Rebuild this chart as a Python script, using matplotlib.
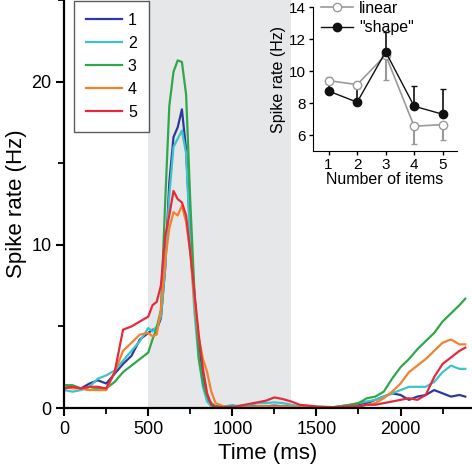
import matplotlib
matplotlib.use("Agg")
import matplotlib.pyplot as plt
from matplotlib.ticker import MultipleLocator

plt.rcParams["font.family"] = ["Liberation Sans", "DejaVu Sans"]

# time axis (ms), shared by all traces
time_ms = [0, 50, 100, 150, 200, 250, 300, 350, 400, 450, 500, 525, 550, 575,
           600, 625, 650, 675, 700, 725, 750, 775, 800, 825, 850, 875, 900,
           950, 1000, 1050, 1100, 1150, 1200, 1250, 1300, 1350, 1400, 1500,
           1600, 1700, 1750, 1800, 1850, 1900, 1950, 2000, 2050, 2100, 2150,
           2200, 2250, 2300, 2350, 2385]

rate_1 = [1.3, 1.3, 1.2, 1.5, 1.7, 1.5, 2.1, 2.7, 3.2, 4.2, 4.6, 4.8, 4.8, 5.5,
          8.5, 13.8, 16.6, 17.2, 18.3, 15.8, 10.5, 6.8, 4.0, 1.8, 0.5, 0.2, 0.1,
          0.1, 0.15, 0.1, 0.1, 0.1, 0.1, 0.15, 0.1, 0.1, 0.1, 0.05,
          0.05, 0.1, 0.2, 0.3, 0.5, 0.7, 0.9, 0.8, 0.5, 0.7, 0.8,
          1.1, 0.9, 0.7, 0.8, 0.7]
rate_2 = [1.1, 1.0, 1.1, 1.3, 1.8, 2.0, 2.3, 2.9, 3.5, 4.1, 4.9, 4.7, 5.0, 5.6,
          8.5, 13.0, 16.0, 16.5, 17.0, 15.6, 10.0, 5.8, 3.0, 1.3, 0.4, 0.1, 0.05,
          0.1, 0.1, 0.15, 0.2, 0.3, 0.3, 0.35, 0.3, 0.2, 0.1, 0.05,
          0.05, 0.2, 0.3, 0.4, 0.5, 0.7, 0.9, 1.1, 1.3, 1.3, 1.3,
          1.6, 2.2, 2.6, 2.4, 2.4]
rate_3 = [1.4, 1.4, 1.2, 1.1, 1.2, 1.2, 1.6, 2.2, 2.6, 3.0, 3.4, 4.2, 4.9, 6.0,
          12.5, 18.5, 20.6, 21.3, 21.2, 19.2, 12.6, 7.0, 3.1, 1.5, 0.7, 0.3, 0.1,
          0.05, 0.05, 0.0, 0.0, 0.05, 0.05, 0.05, 0.05, 0.05, 0.05, 0.05,
          0.05, 0.2, 0.3, 0.6, 0.7, 1.0, 1.8, 2.5, 3.0, 3.6, 4.1,
          4.6, 5.3, 5.8, 6.3, 6.7]
rate_4 = [1.3, 1.2, 1.2, 1.1, 1.1, 1.1, 2.2, 3.5, 4.0, 4.5, 4.6, 4.4, 4.5, 6.0,
          9.0, 11.0, 12.0, 11.8, 12.4, 11.4, 9.5, 6.5, 4.3, 3.0, 2.2, 1.0, 0.3,
          0.1, 0.05, 0.05, 0.05, 0.1, 0.1, 0.1, 0.1, 0.1, 0.05, 0.05,
          0.05, 0.1, 0.1, 0.2, 0.3, 0.6, 1.0, 1.5, 2.2, 2.6, 3.0,
          3.5, 4.0, 4.2, 3.9, 3.9]
rate_5 = [1.2, 1.3, 1.2, 1.3, 1.3, 1.2, 2.2, 4.8, 5.0, 5.3, 5.6, 6.3, 6.5, 7.5,
          10.5, 11.8, 13.3, 12.8, 12.6, 11.8, 9.5, 7.0, 4.5, 2.4, 0.9, 0.2, 0.05,
          0.05, 0.05, 0.15, 0.25, 0.35, 0.45, 0.65, 0.55, 0.4, 0.2, 0.1,
          0.05, 0.1, 0.1, 0.2, 0.2, 0.3, 0.4, 0.5, 0.6, 0.5, 0.8,
          1.9, 2.7, 3.1, 3.5, 3.7]

trace_labels = ["1", "2", "3", "4", "5"]
trace_colors = ["#2b3b9b", "#3fc2c9", "#2ea84b", "#f2822f", "#e52b3b"]

# inset: mean spike rate vs number of items
n_items = [1, 2, 3, 4, 5]
linear_rate = [9.4, 9.15, 11.0, 6.55, 6.65]
linear_err_lo = [0.0, 0.0, 1.55, 1.1, 0.95]
linear_err_hi = [0.2, 0.0, 0.0, 0.0, 0.0]
shape_rate = [8.75, 8.05, 11.2, 7.8, 7.3]
shape_err_hi = [0.75, 0.9, 1.25, 1.25, 1.6]

stim_start, stim_end = 500, 1350

fig = plt.figure(figsize=(4.72, 4.69), dpi=100)
ax = fig.add_axes([0.136, 0.13, 0.864, 0.87])

ax.axvspan(stim_start, stim_end, color="#e6e7e9", lw=0, zorder=0)
for rate, lab, col in zip([rate_1, rate_2, rate_3, rate_4, rate_5],
                          trace_labels, trace_colors):
    ax.plot(time_ms, rate, color=col, lw=1.6, label=lab)

ax.set_xlim(0, 2425)
ax.set_ylim(0, 25)
ax.xaxis.set_major_locator(MultipleLocator(500))
ax.xaxis.set_minor_locator(MultipleLocator(250))
ax.yaxis.set_major_locator(MultipleLocator(10))
ax.yaxis.set_minor_locator(MultipleLocator(5))
ax.set_xticks([0, 500, 1000, 1500, 2000])
for s in ["top", "right"]:
    ax.spines[s].set_visible(False)
for s in ["left", "bottom"]:
    ax.spines[s].set_linewidth(1.6)
ax.tick_params(which="major", direction="out", length=6, width=1.5,
               labelsize=13, pad=3)
ax.tick_params(which="minor", direction="out", length=4, width=1.3)
ax.set_xlabel("Time (ms)", fontsize=16, labelpad=4)
ax.set_ylabel("Spike rate (Hz)", fontsize=16, labelpad=3)

leg = ax.legend(loc="upper left", bbox_to_anchor=(0.025, 0.998), fontsize=11.5,
                frameon=True, fancybox=False, handlelength=2.2,
                handletextpad=0.4, borderpad=0.75, labelspacing=0.5,
                borderaxespad=0.0)
leg.get_frame().set_edgecolor("#333333")
leg.get_frame().set_linewidth(1.0)

# inset
ins = fig.add_axes([0.663, 0.678, 0.305, 0.307])
ins.errorbar(n_items, linear_rate, yerr=[linear_err_lo, linear_err_hi],
             color="#9a9a9a", lw=1.2, elinewidth=1.5, capsize=2.5,
             marker="o", ms=6, mfc="white", mec="#9a9a9a", label="linear")
ins.errorbar(n_items, shape_rate, yerr=[[0] * 5, shape_err_hi],
             color="#111111", lw=1.0, elinewidth=1.2, capsize=2.5,
             marker="o", ms=6, mfc="#111111", mec="#111111", label='"shape"')
ins.set_xlim(0.45, 5.5)
ins.set_ylim(5, 14)
ins.set_xticks(n_items)
ins.set_yticks([6, 8, 10, 12, 14])
ins.patch.set_alpha(0)
for s in ["top", "right"]:
    ins.spines[s].set_visible(False)
ins.tick_params(direction="out", length=3, width=1.0, labelsize=11, pad=2)
ins.set_xlabel("Number of items", fontsize=11.5, labelpad=0)
ins.set_ylabel("Spike rate (Hz)", fontsize=11.5, labelpad=2)
handles, labels = ins.get_legend_handles_labels()
handles = [h[0] for h in handles]
ins.legend(handles, labels, loc="upper left", bbox_to_anchor=(0.0, 1.1),
           frameon=False, fontsize=11.5, handlelength=2.0, handletextpad=0.4,
           labelspacing=0.3, borderpad=0.0)

fig.savefig("out.png", dpi=100)
